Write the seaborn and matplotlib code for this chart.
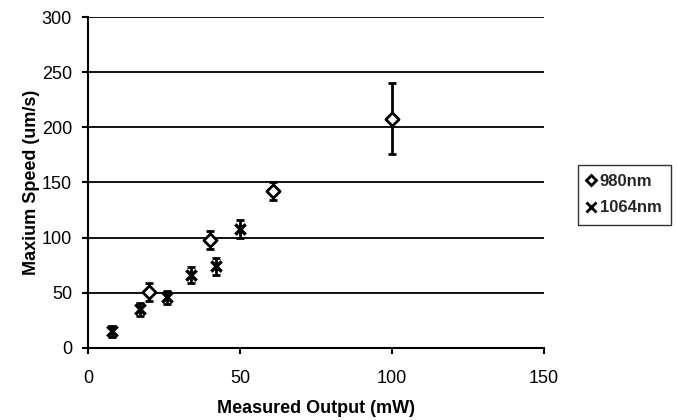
import matplotlib
matplotlib.use("Agg")
import matplotlib.pyplot as plt
import seaborn as sns
import pandas as pd
from matplotlib.lines import Line2D

x980 = [20, 40, 61, 100]
y980 = [51, 98, 142, 208]
e980 = [8, 8, 8, 32]

x1064 = [8, 17, 26, 34, 42, 50]
y1064 = [15, 35, 46, 66, 74, 108]
e1064 = [5, 6, 6, 7, 8, 8]

sns.set_theme(style="white")
plt.rcParams['font.family'] = ['Liberation Sans', 'DejaVu Sans']

fig = plt.figure(figsize=(6.77, 4.2), dpi=100)
ax = fig.add_axes([88/677, 1-348/420, (544-88)/677, (348-17)/420])

d980 = pd.DataFrame({"x": x980, "y": y980, "e": e980})
d1064 = pd.DataFrame({"x": x1064, "y": y1064, "e": e1064})

for d in (d1064, d980):
    ax.errorbar(d.x, d.y, yerr=d.e, fmt="none", ecolor="black", elinewidth=2,
                capsize=3, capthick=2, zorder=3)

sns.scatterplot(data=d980, x="x", y="y", marker="D", s=45, facecolor="white",
                edgecolor="black", linewidth=2, ax=ax, zorder=5)
sns.scatterplot(data=d1064, x="x", y="y", marker="x", s=55, color="black",
                linewidth=2.5, ax=ax, zorder=5)

ax.set_xlim(0, 150)
ax.set_ylim(0, 300)
ax.set_xticks([0, 50, 100, 150])
ax.set_yticks([0, 50, 100, 150, 200, 250, 300])
ax.yaxis.grid(True, color="black", linewidth=1.3)
ax.set_axisbelow(True)
for s in ["top", "right"]:
    ax.spines[s].set_visible(False)
for s in ["left", "bottom"]:
    ax.spines[s].set_color("black")
    ax.spines[s].set_linewidth(1.5)
ax.tick_params(axis="both", direction="out", length=4.5, width=1.5, color="black",
               labelsize=13, labelcolor="black", bottom=True, left=True)
ax.tick_params(axis="x", pad=11)
ax.tick_params(axis="y", pad=7)
ax.set_xlabel("Measured Output (mW)", fontsize=13, fontweight="bold", color="black", labelpad=10)
ax.set_ylabel("Maxium Speed (um/s)", fontsize=13, fontweight="bold", color="black")
ax.yaxis.set_label_coords(-0.105, 0.5)

h = [Line2D([], [], marker="D", linestyle="none", markerfacecolor="white", markeredgecolor="black",
            markeredgewidth=2, markersize=5),
     Line2D([], [], marker="x", linestyle="none", color="black", markeredgewidth=2, markersize=7)]
leg = fig.legend(h, ["980nm", "1064nm"], loc="upper left", bbox_to_anchor=(578/677, 1-165/420),
                 frameon=True, fancybox=False, edgecolor="black", fontsize=12,
                 handlelength=0.5, handletextpad=0.25, borderpad=0.55, labelspacing=0.68,
                 borderaxespad=0)
leg.get_frame().set_linewidth(1.0)
for t in leg.get_texts():
    t.set_fontweight("bold")

fig.savefig("out.png", dpi=100)
